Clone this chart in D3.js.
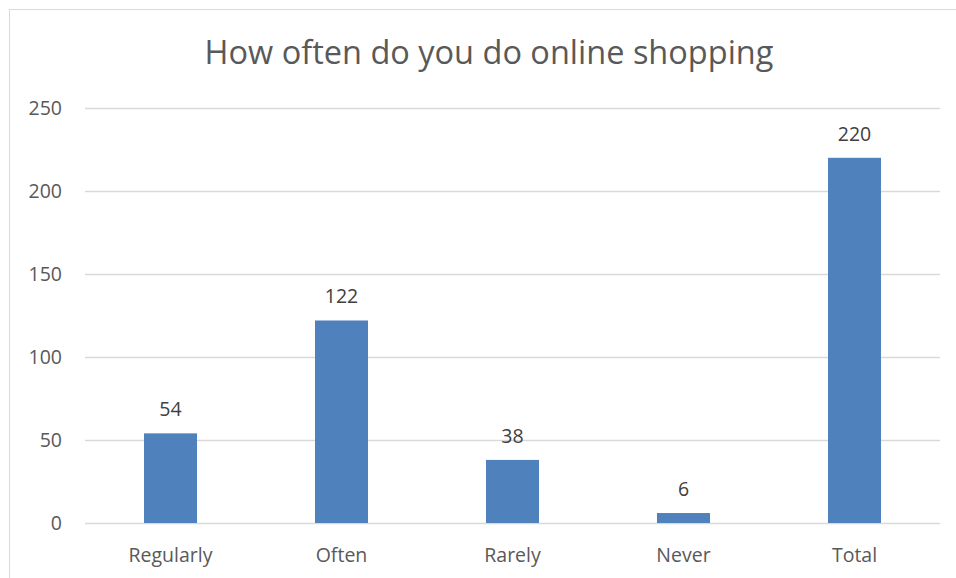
<!DOCTYPE html>
<html>
<head>
<meta charset="utf-8">
<script src="https://cdn.jsdelivr.net/npm/d3@7"></script>
<style>
  html, body { margin: 0; padding: 0; background: #fff; }
  svg text { font-family: "Open Sans", "Noto Sans", sans-serif; }
</style>
</head>
<body>
<svg id="chart" width="956" height="578"></svg>
<script>
// Survey responses: how often people shop online
const categories = ["Regularly", "Often", "Rarely", "Never", "Total"];
const counts = [54, 122, 38, 6, 220];
const yTicks = [0, 50, 100, 150, 200, 250];
const chartTitle = "How often do you do online shopping";

const svg = d3.select("#chart");
const W = 956, H = 578;
const plot = { left: 85, right: 940, top: 108, bottom: 523 };

// Outer chart frame
svg.append("rect")
  .attr("x", 9.5).attr("y", 9.5)
  .attr("width", W + 10).attr("height", H + 10)
  .attr("fill", "#fff").attr("stroke", "#d9d9d9").attr("stroke-width", 1);

const x = d3.scaleBand().domain(categories).range([plot.left, plot.right]).paddingInner(0.69).paddingOuter(0.345);
const y = d3.scaleLinear().domain([0, 250]).range([plot.bottom, plot.top]);

// Horizontal gridlines and y tick labels
const yAxis = d3.axisLeft(y).tickValues(yTicks).tickSize(-(plot.right - plot.left)).tickPadding(23);
const gy = svg.append("g").attr("transform", `translate(${plot.left},0)`).call(yAxis);
gy.select(".domain").remove();
gy.selectAll(".tick line").attr("stroke", "#d9d9d9").attr("stroke-width", 1.5);
gy.selectAll(".tick text").attr("fill", "#595959").style("font-size", "19.5px");

// Category axis labels
const xAxis = d3.axisBottom(x).tickSize(0).tickPadding(25);
const gx = svg.append("g").attr("transform", `translate(0,${plot.bottom})`).call(xAxis);
gx.select(".domain").remove();
gx.selectAll(".tick text").attr("fill", "#595959").style("font-size", "19.5px");

// Bars
svg.append("g").selectAll("rect")
  .data(categories.map((c, i) => ({ c, v: counts[i] })))
  .join("rect")
  .attr("x", d => x(d.c))
  .attr("y", d => y(d.v))
  .attr("width", x.bandwidth())
  .attr("height", d => y(0) - y(d.v))
  .attr("fill", "#4f81bd");

// Value labels above bars
svg.append("g").selectAll("text")
  .data(categories.map((c, i) => ({ c, v: counts[i] })))
  .join("text")
  .attr("x", d => x(d.c) + x.bandwidth() / 2)
  .attr("y", d => y(d.v) - 17)
  .attr("text-anchor", "middle")
  .attr("fill", "#404040")
  .style("font-size", "19.5px")
  .text(d => d.v);

// Title
svg.append("text")
  .attr("x", 489).attr("y", 64)
  .attr("text-anchor", "middle")
  .attr("fill", "#595959")
  .style("font-size", "32.5px")
  .text(chartTitle);
</script>
</body>
</html>
